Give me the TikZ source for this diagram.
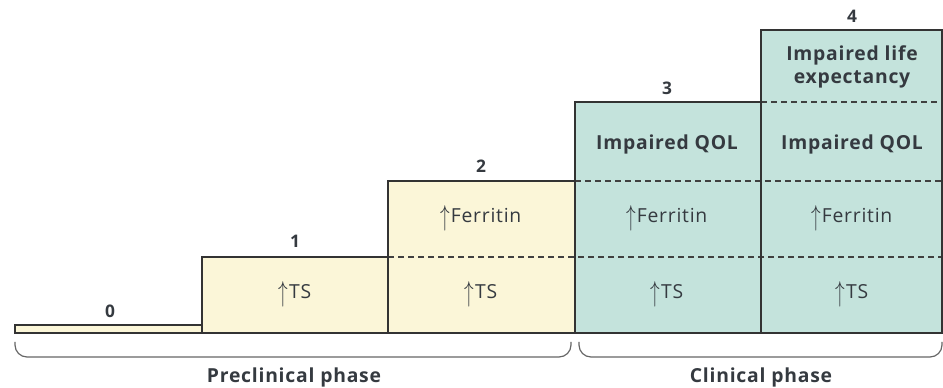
\documentclass[tikz,border=0pt]{standalone}
\usepackage{fontspec}
\setmainfont{Open Sans}[LetterSpace=4]
\usepackage{tikz}
\usetikzlibrary{positioning}
\definecolor{preclin}{HTML}{FBF6D8}
\definecolor{clin}{HTML}{C4E3DC}
\definecolor{inktext}{HTML}{353A40}
\newcommand{\riseup}{\raisebox{-0.12em}{\scalebox{1}[1.5]{$\uparrow$}}\hspace{0.03em}}
\tikzstyle{stagebox} = [draw=black!80, line width=1.1pt]
\tikzstyle{divider} = [draw=black!75, line width=1pt, dash pattern=on 4.5pt off 3pt]
\tikzstyle{cell} = [text centered, align=center, text=inktext, font=\fontsize{14.5}{16}\selectfont, inner sep=0pt]
\tikzstyle{headcell} = [cell, font=\fontsize{14.5}{17}\selectfont\bfseries]
\tikzstyle{stagelabel} = [text=inktext, font=\fontsize{13}{14}\selectfont\bfseries, inner sep=0pt]
\tikzstyle{bracket} = [draw=black!60, line width=0.9pt, rounded corners=9pt]
\tikzstyle{phase} = [text=inktext, font=\fontsize{14.5}{16}\selectfont\bfseries, inner sep=0pt]

\begin{document}
\begin{tikzpicture}[x=0.75pt, y=-0.75pt]
    \useasboundingbox (0,0) rectangle (943,388);
    % stage blocks
    \fill[preclin] (15,325) rectangle (202,333);
    \fill[preclin] (202,257) rectangle (388,333);
    \fill[preclin] (388,181) rectangle (575,333);
    \fill[clin] (575,102) rectangle (761,333);
    \fill[clin] (761,30) rectangle (942,333);
    \draw[divider] (388,257) -- (942,257);
    \draw[divider] (575,181) -- (942,181);
    \draw[divider] (761,102) -- (942,102);
    \draw[stagebox] (15,333) -- (15,325) -- (202,325) -- (202,257) -- (388,257) -- (388,181) -- (575,181) -- (575,102) -- (761,102) -- (761,30) -- (942,30) -- (942,333) -- cycle;
    \draw[stagebox] (202,325) -- (202,333);
    \draw[stagebox] (388,257) -- (388,333);
    \draw[stagebox] (575,181) -- (575,333);
    \draw[stagebox] (761,102) -- (761,333);
    % stage numbers
    \node (Stage0) [stagelabel] at (110,311) {0};
    \node (Stage1) [stagelabel] at (295,241) {1};
    \node (Stage2) [stagelabel] at (481,166) {2};
    \node (Stage3) [stagelabel] at (667,88) {3};
    \node (Stage4) [stagelabel] at (852,16) {4};
    % cell texts
    \node (TSOne) [cell] at (295,294) {\riseup TS};
    \node (TSTwo) [cell] at (481,294) {\riseup TS};
    \node (TSThree) [cell] at (667,294) {\riseup TS};
    \node (TSFour) [cell] at (852,294) {\riseup TS};
    \node (FerritinTwo) [cell] at (481,218) {\riseup Ferritin};
    \node (FerritinThree) [cell] at (667,218) {\riseup Ferritin};
    \node (FerritinFour) [cell] at (852,218) {\riseup Ferritin};
    \node (QOLThree) [headcell] at (667,144) {Impaired QOL};
    \node (QOLFour) [headcell] at (852,144) {Impaired QOL};
    \node (LifeFour) [headcell] at (852,67) {Impaired life\\expectancy};
    % phase brackets
    \coordinate (PreL) at (15,342);
    \coordinate (PreR) at (571,342);
    \coordinate (ClinL) at (579,342);
    \coordinate (ClinR) at (942,342);
    \draw[bracket] (PreL) -- ++(0,15) -| (PreR);
    \draw[bracket] (ClinL) -- ++(0,15) -| (ClinR);
    \node (Preclinical) [phase] at (294,377) {Preclinical phase};
    \node (Clinical) [phase] at (761,377) {Clinical phase};
\end{tikzpicture}
\end{document}
